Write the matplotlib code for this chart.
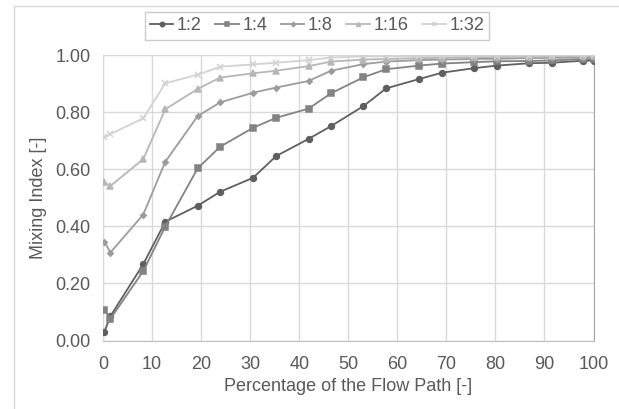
import matplotlib
matplotlib.use('Agg')
import matplotlib.pyplot as plt
from matplotlib.lines import Line2D

plt.rcParams['font.family'] = ['Liberation Sans', 'DejaVu Sans']

flow_path = [0.3, 1.5, 8.2, 12.7, 19.3, 23.9, 30.6, 35.3, 41.9, 46.5,
             53.1, 57.7, 64.5, 69.1, 75.7, 80.4, 86.8, 91.6, 97.9, 100]

mix_1_2 = [0.031, 0.085, 0.267, 0.416, 0.472, 0.521, 0.570, 0.646, 0.706, 0.751,
           0.821, 0.883, 0.916, 0.938, 0.954, 0.963, 0.971, 0.973, 0.980, 0.980]
mix_1_4 = [0.107, 0.076, 0.243, 0.399, 0.603, 0.679, 0.745, 0.780, 0.812, 0.866,
           0.922, 0.950, 0.963, 0.970, 0.975, 0.978, 0.979, 0.981, 0.986, 0.986]
mix_1_8 = [0.346, 0.308, 0.441, 0.626, 0.786, 0.834, 0.868, 0.886, 0.909, 0.945,
           0.968, 0.977, 0.982, 0.984, 0.986, 0.987, 0.989, 0.990, 0.991, 0.992]
mix_1_16 = [0.554, 0.541, 0.635, 0.810, 0.881, 0.921, 0.936, 0.945, 0.961, 0.977,
            0.984, 0.986, 0.989, 0.990, 0.992, 0.993, 0.994, 0.995, 0.996, 0.996]
mix_1_32 = [0.712, 0.723, 0.778, 0.901, 0.931, 0.959, 0.967, 0.973, 0.982, 0.991,
            0.995, 0.995, 0.996, 0.997, 0.997, 0.998, 0.998, 0.998, 0.999, 0.999]

labels = ['1:2', '1:4', '1:8', '1:16', '1:32']
series = [mix_1_2, mix_1_4, mix_1_8, mix_1_16, mix_1_32]
colors = ['#5f5f5f', '#838383', '#9c9c9c', '#b7b7b7', '#d2d2d2']
markers = ['o', 's', 'D', '^', 'x']
msizes = [4.2, 4.2, 2.8, 3.8, 4.2]

fig = plt.figure(figsize=(6.19, 4.09), dpi=100)
ax = fig.add_axes([103 / 619, 1 - 340.5 / 409, 490.5 / 619, 285.5 / 409])

for ys, lab, c, m, ms in zip(series, labels, colors, markers, msizes):
    ax.plot(flow_path, ys, color=c, lw=1.3, marker=m, markersize=ms,
            markerfacecolor=c, markeredgecolor=c, markeredgewidth=1.1,
            label=lab, zorder=3)

ax.set_xlim(0, 100)
ax.set_ylim(0, 1.0)
ax.set_xticks(range(0, 101, 10))
ax.set_yticks([0, 0.2, 0.4, 0.6, 0.8, 1.0])
ax.set_yticklabels([f'{v:.2f}' for v in [0, 0.2, 0.4, 0.6, 0.8, 1.0]])
ax.grid(True, color='#d9d9d9', lw=1.0)
ax.set_axisbelow(True)
ax.tick_params(length=0, labelsize=13, labelcolor='#595959')
ax.tick_params(axis='x', pad=11)
ax.tick_params(axis='y', pad=9)
for s in ax.spines.values():
    s.set_color('#d9d9d9')
ax.spines['bottom'].set_color('#bfbfbf')
ax.spines['right'].set_color('#a6a6a6')

ax.set_xlabel('Percentage of the Flow Path [-]', fontsize=13, color='#595959', labelpad=4)
ax.set_ylabel('Mixing Index [-]', fontsize=13, color='#595959', labelpad=6)

leg = fig.legend(loc='center', bbox_to_anchor=(317 / 619, 1 - 26 / 409), ncol=5,
                 fontsize=13, frameon=True, fancybox=False, handlelength=1.3,
                 handletextpad=0.2, columnspacing=0.75, borderpad=0.3,
                 markerscale=0.75, labelcolor='#595959')
leg.get_frame().set_edgecolor('#bfbfbf')
leg.get_frame().set_linewidth(1.0)

fig.add_artist(Line2D([14 / 619, 14 / 619], [0, 1 - 6 / 409], transform=fig.transFigure,
                      color='#d9d9d9', lw=1.0))
fig.add_artist(Line2D([14 / 619, 1], [1 - 6 / 409, 1 - 6 / 409], transform=fig.transFigure,
                      color='#d9d9d9', lw=1.0))

fig.savefig('out.png', dpi=100)
